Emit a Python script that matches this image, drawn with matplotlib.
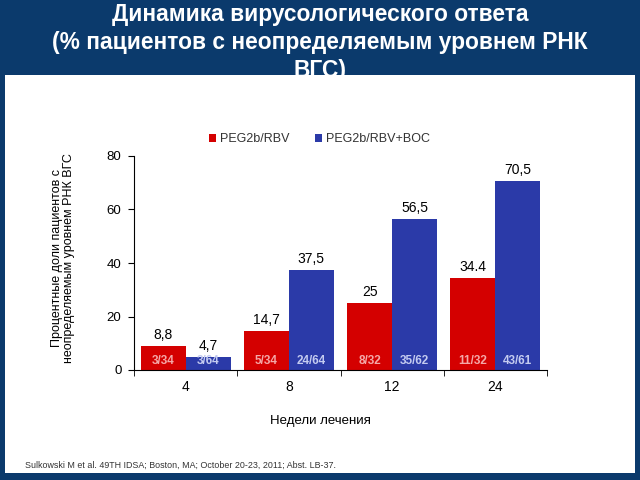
import numpy as np
import matplotlib
matplotlib.use("Agg")
import matplotlib.pyplot as plt
from matplotlib.patches import Rectangle

plt.rcParams['font.family'] = ['Liberation Sans', 'DejaVu Sans']

weeks = ['4', '8', '12', '24']
peg_rbv = [8.8, 14.7, 25, 34.4]
peg_rbv_boc = [4.7, 37.5, 56.5, 70.5]
peg_rbv_labels = ['8,8', '14,7', '25', '34.4']
peg_rbv_boc_labels = ['4,7', '37,5', '56,5', '70,5']
peg_rbv_counts = ['3/34', '5/34', '8/32', '11/32']
peg_rbv_boc_counts = ['3/64', '24/64', '35/62', '43/61']

RED = '#d40000'
BLUE = '#2b3aa8'
BG = '#0b3a6c'

fig = plt.figure(figsize=(6.4, 4.8), dpi=100)
fig.patch.set_facecolor(BG)

# title goes under the white panel, so the last line is clipped like in the slide
title_lines = ['Динамика вирусологического ответа',
               '(% пациентов с неопределяемым уровнем РНК',
               'ВГС)']
for k, line in enumerate(title_lines):
    fig.text(0.5, 1 - (14 + 28 * k) / 480, line, ha='center', va='center',
             color='white', fontsize=16.4, fontweight='bold', zorder=1)

panel = Rectangle((5 / 640, 1 - 473 / 480), 630 / 640, (473 - 75) / 480,
                  transform=fig.transFigure, facecolor='white', edgecolor='none', zorder=2)
fig.patches.append(panel)

ax = fig.add_axes([134 / 640, 1 - 370 / 480, (547 - 134) / 640, (370 - 156) / 480])
ax.set_zorder(3)
ax.patch.set_alpha(0)

x = np.arange(len(weeks))
w = 0.435
ax.bar(x - w / 2, peg_rbv, w, color=RED, label='PEG2b/RBV')
ax.bar(x + w / 2, peg_rbv_boc, w, color=BLUE, label='PEG2b/RBV+BOC')

for i in range(len(weeks)):
    ax.text(x[i] - w / 2, peg_rbv[i] + 1.5, peg_rbv_labels[i], ha='center', va='bottom', fontsize=10)
    ax.text(x[i] + w / 2, peg_rbv_boc[i] + 1.5, peg_rbv_boc_labels[i], ha='center', va='bottom', fontsize=10)
    ax.text(x[i] - w / 2, 3.2, peg_rbv_counts[i], ha='center', va='center',
            fontsize=8.5, fontweight='bold', color='#f4a8a8')
    ax.text(x[i] + w / 2, 3.2, peg_rbv_boc_counts[i], ha='center', va='center',
            fontsize=8.5, fontweight='bold', color='#c4cbf0')

ax.set_xlim(-0.5, len(weeks) - 0.5)
ax.set_ylim(0, 80)
ax.set_yticks([0, 20, 40, 60, 80])
ax.set_xticks(x)
ax.set_xticklabels(weeks)
ax.set_xticks(np.arange(-0.5, len(weeks)), minor=True)
ax.tick_params(axis='x', which='major', length=0, pad=7, labelsize=10)
ax.tick_params(axis='x', which='minor', length=4, direction='out')
ax.tick_params(axis='y', length=4, direction='out', labelsize=9.5, pad=5)
for s in ['top', 'right']:
    ax.spines[s].set_visible(False)

ax.legend(loc='upper center', bbox_to_anchor=(0.449, 1.16), ncol=2, frameon=False,
          fontsize=9, handlelength=0.6, handleheight=0.6, columnspacing=2.0,
          handletextpad=0.3, labelcolor='#333333')

fig.text(63 / 640, 1 - 258 / 480, 'Процентные доли пациентов с\nнеопределяемым уровнем РНК ВГС',
         rotation=90, ha='center', va='center', fontsize=9, zorder=4, linespacing=1.1)
fig.text(320 / 640, 1 - 421 / 480, 'Недели лечения', ha='center', va='center',
         fontsize=9.5, zorder=4)
fig.text(25 / 640, 1 - 465 / 480,
         'Sulkowski M et al. 49TH IDSA; Boston, MA; October 20-23, 2011; Abst. LB-37.',
         ha='left', va='center', fontsize=6.4, color='#333333', zorder=4)

fig.savefig('out.png', dpi=100, facecolor=fig.get_facecolor())
